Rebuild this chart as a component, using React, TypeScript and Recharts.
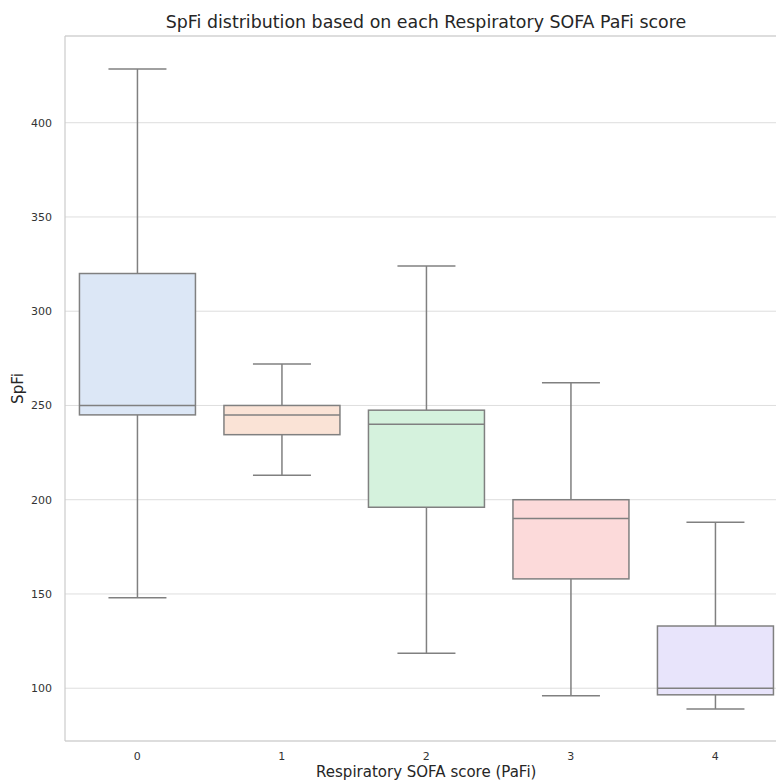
import React from 'react';
import {
  ComposedChart,
  Bar,
  XAxis,
  YAxis,
  CartesianGrid,
  ReferenceLine,
} from 'recharts';

const scores = ['0', '1', '2', '3', '4'];
const whiskerLow = [148, 213, 118.5, 96, 89];
const q1 = [245, 234.5, 196, 158, 96.5];
const median = [250, 245, 240, 190, 100];
const q3 = [320, 250, 247.5, 200, 133];
const whiskerHigh = [428.5, 272, 324, 262, 188];
const boxColors = ['#dce7f6', '#fae3d6', '#d5f2dd', '#fcdada', '#e8e4fb'];
const yTicks = [100, 150, 200, 250, 300, 350, 400];

const Y_MIN = 72;
const Y_MAX = 446;
const LINE = '#808080';
const SPINE = '#cccccc';
const FONT = '"DejaVu Sans", sans-serif';

const data = scores.map((score, i) => ({
  score,
  lo: whiskerLow[i],
  q1: q1[i],
  med: median[i],
  q3: q3[i],
  hi: whiskerHigh[i],
  color: boxColors[i],
}));

// bar spans lo..hi; everything inside is placed with the same linear scale
const BoxShape = (props: any) => {
  const { x, y, width, height, payload } = props;
  const perUnit = height / (payload.hi - payload.lo);
  const yOf = (v: number) => y + (payload.hi - v) * perUnit;
  const cx = x + width / 2;
  const capHalf = width / 4;
  return (
    <g>
      <line x1={cx} x2={cx} y1={yOf(payload.hi)} y2={yOf(payload.q3)} stroke={LINE} strokeWidth={1.5} />
      <line x1={cx} x2={cx} y1={yOf(payload.q1)} y2={yOf(payload.lo)} stroke={LINE} strokeWidth={1.5} />
      <line x1={cx - capHalf} x2={cx + capHalf} y1={yOf(payload.hi)} y2={yOf(payload.hi)} stroke={LINE} strokeWidth={1.5} />
      <line x1={cx - capHalf} x2={cx + capHalf} y1={yOf(payload.lo)} y2={yOf(payload.lo)} stroke={LINE} strokeWidth={1.5} />
      <rect
        x={x}
        y={yOf(payload.q3)}
        width={width}
        height={yOf(payload.q1) - yOf(payload.q3)}
        fill={payload.color}
        stroke={LINE}
        strokeWidth={1.5}
      />
      <line x1={x} x2={x + width} y1={yOf(payload.med)} y2={yOf(payload.med)} stroke={LINE} strokeWidth={1.5} />
    </g>
  );
};

export default function App() {
  return (
    <div style={{ position: 'absolute', left: 0, top: 0, width: 776, height: 780, overflow: 'hidden', fontFamily: FONT }}>
      <div
        style={{
          position: 'absolute',
          left: 0,
          top: 12,
          width: 852,
          textAlign: 'center',
          fontSize: 17.4,
          lineHeight: '20px',
          color: '#262626',
        }}
      >
        SpFi distribution based on each Respiratory SOFA PaFi score
      </div>
      <ComposedChart
        width={790}
        height={780}
        data={data}
        margin={{ top: 36, right: 2.5, bottom: 0, left: 0 }}
        barCategoryGap="10%"
        style={{ fontFamily: FONT }}
      >
        <CartesianGrid horizontal vertical={false} stroke="#dedede" strokeWidth={1} />
        <ReferenceLine y={Y_MAX} stroke={SPINE} strokeWidth={1.2} />
        <XAxis
          dataKey="score"
          height={39}
          tickLine={false}
          tickSize={8}
          tickMargin={3}
          axisLine={{ stroke: SPINE, strokeWidth: 1.2 }}
          tick={{ fill: '#333333', fontSize: 11 }}
          label={{
            value: 'Respiratory SOFA score (PaFi)',
            position: 'insideBottom',
            offset: 3,
            style: { fill: '#262626', fontSize: 15 },
          }}
        />
        <YAxis
          type="number"
          width={65}
          domain={[Y_MIN, Y_MAX]}
          ticks={yTicks}
          allowDataOverflow
          tickLine={false}
          tickSize={10}
          tickMargin={3}
          axisLine={{ stroke: SPINE, strokeWidth: 1.2 }}
          tick={{ fill: '#333333', fontSize: 11 }}
          label={{
            value: 'SpFi',
            angle: -90,
            position: 'insideLeft',
            offset: 18,
            style: { fill: '#262626', fontSize: 15, textAnchor: 'middle' },
          }}
        />
        <Bar
          dataKey={(d: any) => [d.lo, d.hi]}
          shape={<BoxShape />}
          isAnimationActive={false}
        />
      </ComposedChart>
    </div>
  );
}
